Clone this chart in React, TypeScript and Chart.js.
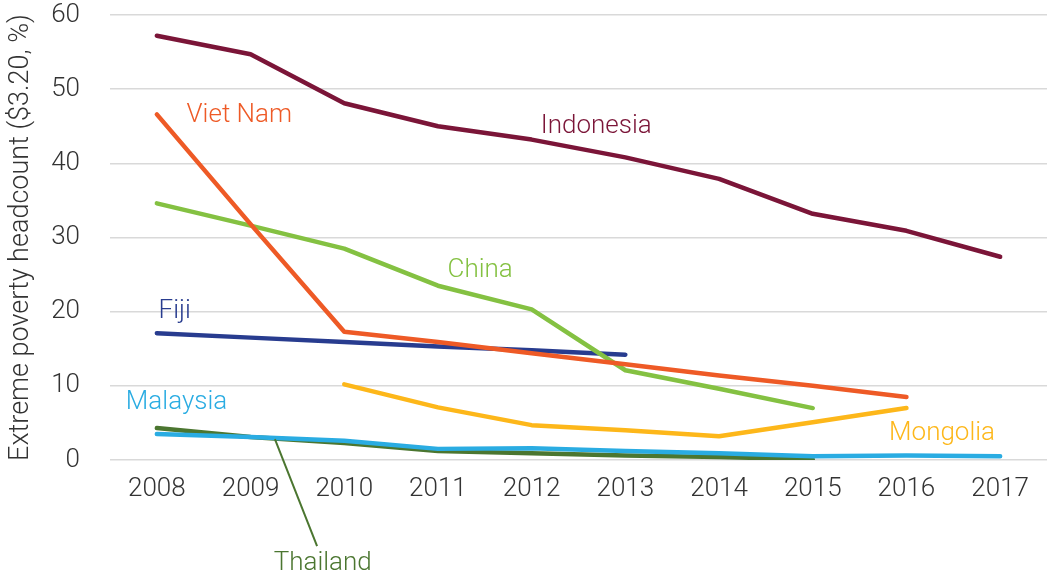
import React, { useEffect, useRef } from "react";
import { Chart, registerables } from "chart.js";

Chart.register(...registerables);

const years = ["2008", "2009", "2010", "2011", "2012", "2013", "2014", "2015", "2016", "2017"];
const indonesia = [57.2, 54.7, 48.1, 45.0, 43.2, 40.8, 37.9, 33.2, 30.9, 27.4];
const vietNam = [46.6, 31.8, 17.3, 15.9, 14.4, 12.9, 11.4, 10.0, 8.5, null];
const china = [34.6, 31.6, 28.5, 23.5, 20.3, 12.1, 9.6, 7.0, null, null];
const fiji = [17.1, 16.5, 15.9, 15.3, 14.8, 14.2, null, null, null, null];
const mongolia = [null, null, 10.2, 7.1, 4.7, 4.0, 3.2, 5.1, 7.0, null];
const malaysia = [3.5, 3.1, 2.6, 1.5, 1.6, 1.2, 0.9, 0.5, 0.6, 0.5];
const thailand = [4.3, 3.1, 2.3, 1.2, 0.9, 0.6, 0.4, 0.1, null, null];
const yTicks = [0, 10, 20, 30, 40, 50, 60];

const seriesNames = ["Indonesia", "Viet Nam", "China", "Fiji", "Mongolia", "Malaysia", "Thailand"];
const seriesColors = ["#7B1538", "#EE5A26", "#84C142", "#283C8F", "#FDB71A", "#2AACE2", "#4B7630"];
const seriesValues = [indonesia, vietNam, china, fiji, mongolia, malaysia, thailand];

// label anchors in data space: category index (fractional) and value
const labelTexts = ["Viet Nam", "Indonesia", "China", "Fiji", "Malaysia", "Mongolia", "Thailand"];
const labelColors = ["#EE5A26", "#7B1538", "#84C142", "#283C8F", "#2AACE2", "#FDB71A", "#4B7630"];
const labelIdx = [0.88, 4.69, 3.45, 0.19, 0.21, 8.38, 1.77];
const labelVal = [46.4, 45.0, 25.5, 20.0, 7.7, 3.6, -13.9];

// Thailand leader line (data space)
const leaderIdx = [1.26, 1.71];
const leaderVal = [2.8, -11.6];

const FONT = "Roboto, 'Liberation Sans', sans-serif";

export default function App() {
  const ref = useRef<HTMLCanvasElement | null>(null);
  useEffect(() => {
    if (!ref.current) return;
    const labelPlugin = {
      id: "seriesLabels",
      afterDatasetsDraw(chart: any) {
        const ctx = chart.ctx;
        const xs = chart.scales.x;
        const ys = chart.scales.y;
        const px = (i: number) => {
          const a = xs.getPixelForValue(Math.floor(i));
          const b = xs.getPixelForValue(Math.floor(i) + 1);
          return a + (b - a) * (i - Math.floor(i));
        };
        ctx.save();
        ctx.strokeStyle = "#4B7630";
        ctx.lineWidth = 2;
        ctx.beginPath();
        ctx.moveTo(px(leaderIdx[0]), ys.getPixelForValue(leaderVal[0]));
        ctx.lineTo(px(leaderIdx[1]), ys.getPixelForValue(leaderVal[1]));
        ctx.stroke();
        ctx.font = "300 26px " + FONT;
        ctx.textAlign = "center";
        ctx.textBaseline = "middle";
        labelTexts.forEach((t, k) => {
          ctx.fillStyle = labelColors[k];
          ctx.fillText(t, px(labelIdx[k]), ys.getPixelForValue(labelVal[k]));
        });
        ctx.restore();
      },
    };
    const chart = new Chart(ref.current, {
      type: "line",
      data: {
        labels: years,
        datasets: seriesNames.map((n, k) => ({
          label: n,
          data: seriesValues[k],
          borderColor: seriesColors[k],
          backgroundColor: seriesColors[k],
          borderWidth: 4.5,
          borderCapStyle: "round",
          borderJoinStyle: "round",
          pointRadius: 0,
          tension: 0,
          fill: false,
          spanGaps: false,
          order: k + 1,
        })),
      },
      options: {
        animation: false,
        responsive: true,
        maintainAspectRatio: false,
        layout: { padding: { left: 0, top: 15, right: 2, bottom: 0 } },
        plugins: { legend: { display: false }, tooltip: { enabled: false } },
        scales: {
          x: {
            offset: true,
            grid: { display: false, drawTicks: false },
            border: { display: false },
            ticks: { color: "#333333", font: { family: FONT, size: 26, weight: "300" }, padding: 14, maxRotation: 0 },
            afterFit: (s: any) => { s.height = 117; s.paddingLeft = 0; s.paddingRight = 0; },
          },
          y: {
            min: 0,
            max: 60,
            afterBuildTicks: (s: any) => { s.ticks = yTicks.map((v) => ({ value: v })); },
            grid: { color: "#d9d9d9", lineWidth: 1.5, drawTicks: false },
            border: { display: false },
            ticks: { color: "#333333", font: { family: FONT, size: 26, weight: "300" }, padding: 30 },
            title: {
              display: true,
              text: "Extreme poverty headcount ($3.20, %)",
              color: "#333333",
              font: { family: FONT, size: 27, weight: "300" },
              padding: { top: 5, bottom: 0 },
            },
            afterFit: (s: any) => { s.width = 110; s.paddingTop = 0; s.paddingBottom = 0; },
          },
        },
      },
      plugins: [labelPlugin],
    } as any);
    return () => chart.destroy();
  }, []);
  return (
    <div style={{ position: "absolute", left: 0, top: 0, width: 1049, height: 577 }}>
      <canvas ref={ref} />
    </div>
  );
}
